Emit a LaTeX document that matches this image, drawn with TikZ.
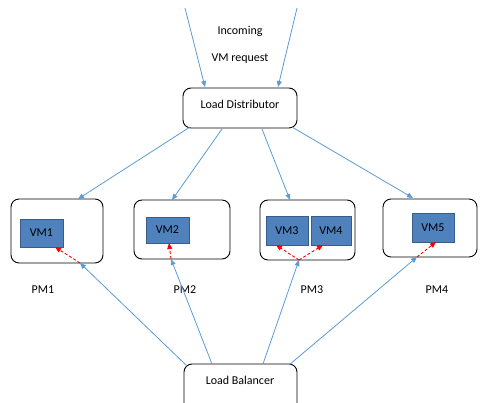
\documentclass[tikz,border=0pt]{standalone}
\usepackage{fontspec}
\setmainfont{Carlito}
\usetikzlibrary{arrows.meta}
\definecolor{lineblue}{RGB}{91,155,213}
\definecolor{vmfill}{RGB}{79,129,189}
\definecolor{vmborder}{RGB}{56,93,138}
\tikzset{
  box/.style={draw=black, rounded corners=8pt, line width=0.9pt},
  vmbox/.style={draw=vmborder, fill=vmfill, line width=0.8pt, inner sep=0pt},
  conn/.style={draw=lineblue, line width=0.8pt, -{Triangle[length=6pt,width=5pt]}},
  redarr/.style={draw=red, dashed, dash pattern=on 3pt off 2pt, line width=0.9pt, -{Triangle[length=6pt,width=5pt]}},
  lbl/.style={font=\fontsize{12}{14}\selectfont, inner sep=0pt}
}
\begin{document}
\begin{tikzpicture}[x=1pt,y=-1pt]
\useasboundingbox (0,0) rectangle (480,403);
\begin{scope}
\clip (0,0) rectangle (480,403);
% Load Distributor
\draw[box] (183,88) rectangle (297,128);
\node[lbl] (ld) at (240,104) {Load Distributor};
% Load Balancer
\draw[box] (184,364) rectangle (297,415);
\node[lbl] (lb) at (240,380) {Load Balancer};
% PMs
\draw[box] (11,199) rectangle (103,263);
\draw[box] (134,200) rectangle (230,259);
\draw[box] (260,200) rectangle (355,260);
\draw[box] (383,199) rectangle (477,257);
% VMs
\node[vmbox, minimum width=43pt, minimum height=28pt, lbl] (vm1) at (41.5,233) {VM1};
\node[vmbox, minimum width=43pt, minimum height=26pt, lbl] (vm2) at (167.5,230) {VM2};
\node[vmbox, minimum width=42pt, minimum height=29pt, lbl] (vm3) at (287,230.5) {VM3};
\node[vmbox, minimum width=40pt, minimum height=29pt, lbl] (vm4) at (331,230.5) {VM4};
\node[vmbox, minimum width=42pt, minimum height=29pt, lbl] (vm5) at (433,227.5) {VM5};
% labels
\node[lbl] (pm1) at (43,290) {PM1};
\node[lbl] (pm2) at (185,290) {PM2};
\node[lbl] (pm3) at (312,290) {PM3};
\node[lbl] (pm4) at (437,290) {PM4};
\node[lbl] (inc) at (240,31) {Incoming};
\node[lbl] (vmr) at (240,59) {VM request};
% coordinates
\coordinate (in1s) at (185,8);
\coordinate (in1e) at (205,87);
\coordinate (in2s) at (297,8);
\coordinate (in2e) at (278,87);
\coordinate (ld1) at (190,127);
\coordinate (ld2) at (222,129);
\coordinate (ld3) at (262,129);
\coordinate (ld4) at (292,127);
\coordinate (pm1t) at (78,199);
\coordinate (pm2t) at (172,200);
\coordinate (pm3t) at (290,200);
\coordinate (pm4t) at (413,198);
\coordinate (lb1) at (186,365);
\coordinate (lb2) at (212,364);
\coordinate (lb3) at (263,364);
\coordinate (lb4) at (289,365);
\coordinate (pm1b) at (80,263);
\coordinate (pm2b) at (171,259);
\coordinate (pm3b) at (299,260);
\coordinate (pm4b) at (417,257);
\coordinate (vm1t) at (55,247);
\coordinate (vm2t) at (169,243);
\coordinate (vm3t) at (276,245);
\coordinate (vm4t) at (323,245);
\coordinate (vm5t) at (436,242);
% connectors
\draw[conn] (in1s) -- (in1e);
\draw[conn] (in2s) -- (in2e);
\draw[conn] (ld1) -- (pm1t);
\draw[conn] (ld2) -- (pm2t);
\draw[conn] (ld3) -- (pm3t);
\draw[conn] (ld4) -- (pm4t);
\draw[conn] (lb1) -- (pm1b);
\draw[conn] (lb2) -- (pm2b);
\draw[conn] (lb3) -- (pm3b);
\draw[conn] (lb4) -- (pm4b);
\draw[redarr] (pm1b) -- (vm1t);
\draw[redarr] (pm2b) -- (vm2t);
\draw[redarr] (pm3b) -- (vm3t);
\draw[redarr] (pm3b) -- (vm4t);
\draw[redarr] (pm4b) -- (vm5t);
\end{scope}
\end{tikzpicture}
\end{document}
